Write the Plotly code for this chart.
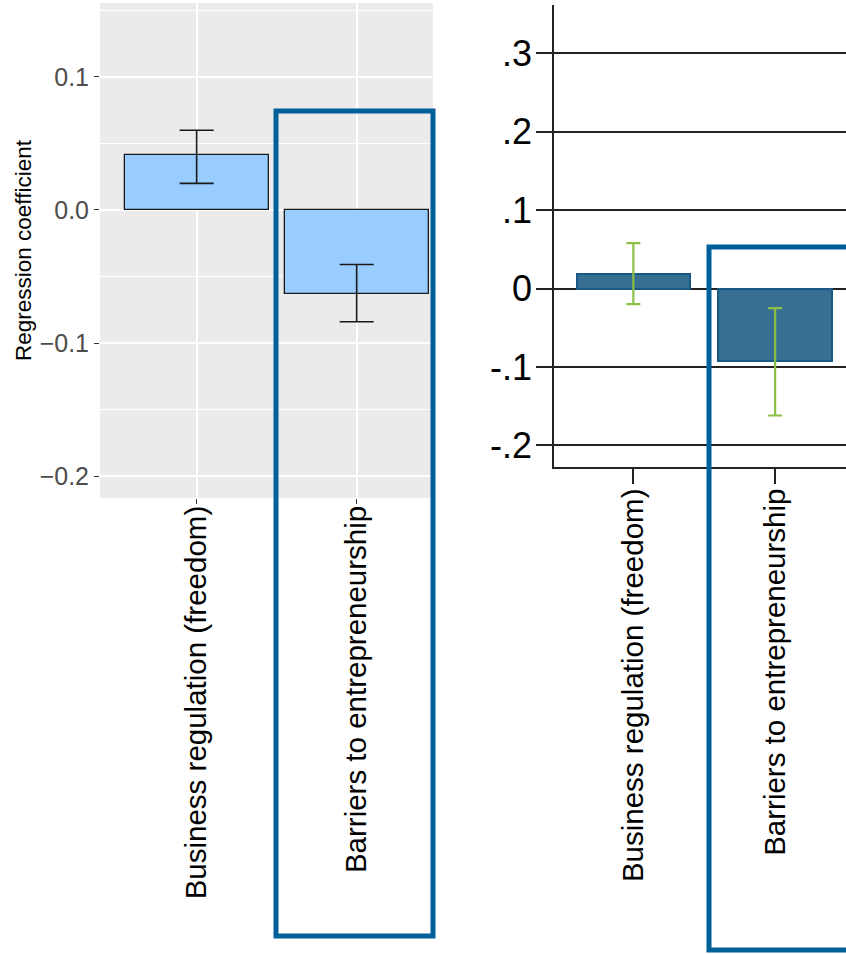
import plotly.graph_objects as go

W, H = 846, 954

categories = ["Business regulation (freedom)", "Barriers to entrepreneurship"]

# Left panel (ggplot-style)
left_coef = [0.041, -0.063]
left_lo = [0.020, -0.084]
left_hi = [0.060, -0.041]
left_ticks = [0.1, 0.0, -0.1, -0.2]
left_ticklabels = ["0.1", "0.0", "\u22120.1", "\u22120.2"]

# Right panel (Stata-style)
right_coef = [0.019, -0.093]
right_lo = [-0.020, -0.162]
right_hi = [0.058, -0.025]
right_ticks = [0.3, 0.2, 0.1, 0.0, -0.1, -0.2]
right_ticklabels = [".3", ".2", ".1", "0", "-.1", "-.2"]

FONT = "Liberation Sans, Arial, sans-serif"

def px_x(p):
    return p / W

def px_y(p):
    return 1 - p / H

fig = go.Figure()

xidx = list(range(len(categories)))

fig.add_trace(go.Bar(
    x=xidx, y=left_coef, width=0.9,
    marker=dict(color="#99ccff", line=dict(color="#1a1a1a", width=1.3)),
    error_y=dict(type="data", symmetric=False,
                 array=[h - c for h, c in zip(left_hi, left_coef)],
                 arrayminus=[c - l for c, l in zip(left_coef, left_lo)],
                 color="#1a1a1a", thickness=1.6, width=17),
    xaxis="x", yaxis="y", showlegend=False, hoverinfo="skip",
))

fig.add_trace(go.Bar(
    x=xidx, y=right_coef, width=0.8,
    marker=dict(color="#366f92", line=dict(color="#1a5886", width=2)),
    error_y=dict(type="data", symmetric=False,
                 array=[h - c for h, c in zip(right_hi, right_coef)],
                 arrayminus=[c - l for c, l in zip(right_coef, right_lo)],
                 color="#8cbf45", thickness=2.2, width=7),
    xaxis="x2", yaxis="y2", showlegend=False, hoverinfo="skip",
))

fig.update_layout(
    width=W, height=H,
    margin=dict(l=0, r=0, t=0, b=0),
    paper_bgcolor="white",
    plot_bgcolor="white",
    font=dict(family=FONT, color="black"),
    bargap=0,
    shapes=[
        dict(type="rect", xref="x domain", yref="y domain", x0=0, x1=1, y0=0, y1=1,
             fillcolor="#ebebeb", line=dict(width=0), layer="below"),
        dict(type="rect", xref="paper", yref="paper",
             x0=px_x(276), x1=px_x(433), y0=px_y(936), y1=px_y(111),
             line=dict(color="#00619a", width=5), fillcolor="rgba(0,0,0,0)", layer="above"),
        dict(type="rect", xref="paper", yref="paper",
             x0=px_x(709), x1=px_x(870), y0=px_y(950), y1=px_y(247),
             line=dict(color="#00619a", width=5), fillcolor="rgba(0,0,0,0)", layer="above"),
    ],
    xaxis=dict(
        domain=[px_x(100), px_x(433)],
        range=[-0.604, 1.477],
        tickmode="array", tickvals=xidx, ticktext=categories,
        tickangle=-90, tickfont=dict(size=29.5, color="black", family=FONT),
        ticks="outside", ticklen=5, tickcolor="#333333", tickwidth=1,
        showgrid=True, gridcolor="white", gridwidth=1.6,
        showline=False, zeroline=False, anchor="y",
        ticklabelstandoff=-10,
    ),
    yaxis=dict(
        domain=[px_y(498), px_y(3)],
        range=[-0.2165, 0.1556],
        tickmode="array", tickvals=left_ticks, ticktext=left_ticklabels,
        tickfont=dict(size=25, color="#4d4d4d", family=FONT),
        ticks="outside", ticklen=5, tickcolor="#333333", tickwidth=1,
        showgrid=True, gridcolor="white", gridwidth=1.6,
        minor=dict(dtick=0.05, tick0=0, showgrid=True, gridcolor="white", gridwidth=0.8, ticks=""),
        zeroline=False, showline=False, anchor="x",
        title=dict(text="Regression coefficient", font=dict(size=22.5, color="black", family=FONT),
                   standoff=1),
    ),
    xaxis2=dict(
        domain=[px_x(554), 1.0],
        range=[-0.56, 1.50],
        tickmode="array", tickvals=xidx, ticktext=categories,
        tickangle=-90, tickfont=dict(size=29.5, color="black", family=FONT),
        ticks="outside", ticklen=15, tickcolor="#222222", tickwidth=1.5,
        showgrid=False, zeroline=False,
        showline=True, linecolor="#222222", linewidth=1.5,
        anchor="y2", ticklabelstandoff=-7,
    ),
    yaxis2=dict(
        domain=[px_y(467), px_y(5)],
        range=[-0.2277, 0.3617],
        tickmode="array", tickvals=right_ticks, ticktext=right_ticklabels,
        tickfont=dict(size=36, color="black", family=FONT),
        ticks="outside", ticklen=16, tickcolor="#222222", tickwidth=1.5,
        showgrid=True, gridcolor="#222222", gridwidth=1.5,
        zeroline=False,
        showline=True, linecolor="#222222", linewidth=1.5,
        anchor="x2", ticklabelstandoff=-3,
    ),
)

# Remove the browser's default 8px body margin so the figure fills the window.
fig.write_html("out.html",
               config={"displayModeBar": False},
               post_script="document.body.style.margin='0';document.body.style.overflow='hidden';")
